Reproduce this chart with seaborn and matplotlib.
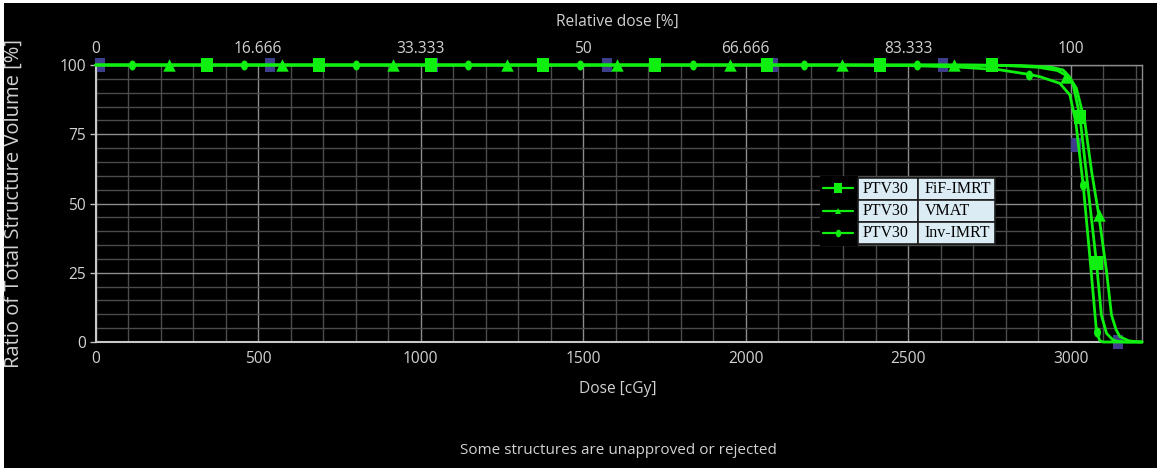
import numpy as np
import pandas as pd
import matplotlib
matplotlib.use("Agg")
import matplotlib.pyplot as plt
import seaborn as sns
from matplotlib.patches import Rectangle
from matplotlib.lines import Line2D

# ---------------- data ----------------
plans = ["FiF-IMRT", "VMAT", "Inv-IMRT"]
structure = "PTV30"

fif_dose = [0, 2600, 2800, 2900, 2960, 2990, 3008, 3029, 3054, 3080, 3095, 3111, 3130, 3142, 3170, 3220]
fif_vol = [100, 100, 99.8, 99.2, 98.0, 96.0, 93.0, 81.3, 55.5, 28.4, 9.7, 3.1, 0.8, 0.3, 0, 0]

vmat_dose = [0, 2700, 2850, 2940, 2977, 2995, 3018, 3044, 3065, 3087, 3111, 3126, 3140, 3152, 3180, 3213, 3220]
vmat_vol = [100, 100, 99.8, 99.2, 98.2, 96.0, 91.6, 79.5, 61.5, 45.8, 25.4, 9.8, 4.5, 1.9, 0.4, 0, 0]

inv_dose = [0, 2300, 2500, 2650, 2780, 2873, 2905, 2967, 2998, 3016, 3039, 3059, 3080, 3090, 3100, 3220]
inv_vol = [100, 100, 99.8, 99.3, 98.3, 96.6, 95.8, 93.4, 89.2, 79.5, 56.7, 31.4, 3.7, 0.5, 0, 0]

# marker positions along each curve
fif_mk_dose = [342, 687, 1032, 1376, 1721, 2066, 2413, 2758, 3029, 3081]
fif_mk_vol = [100, 100, 100, 100, 100, 100, 100, 100, 81.3, 28.4]
vmat_mk_dose = [226, 573, 915, 1266, 1604, 1952, 2296, 2641, 2986, 3087]
vmat_mk_vol = [100, 100, 100, 100, 100, 100, 100, 100, 95.8, 45.8]
inv_mk_dose = [112, 457, 801, 1146, 1491, 1838, 2180, 2528, 2873, 3039, 3080]
inv_mk_vol = [100, 100, 100, 100, 100, 100, 100, 100, 96.4, 56.7, 3.7]
# hidden (dark blue) structure markers partly covered by the green curves
hid_mk_dose = [13, 537, 1038, 1574, 2085, 2608, 3017, 3145]
hid_mk_vol = [100, 100, 100, 100, 100, 100, 71, 0]

x_ticks = [0, 500, 1000, 1500, 2000, 2500, 3000]
y_ticks = [0, 25, 50, 75, 100]
rel_labels = ["0", "16.666", "33.333", "50", "66.666", "83.333", "100"]

# ---------------- styling ----------------
sns.set_theme(style="dark")
plt.rcParams["font.family"] = ["Open Sans", "DejaVu Sans"]
GREEN = "#10f010"
TXT = "#d2d2d2"
FS = 11.2

W, H = 1165, 468
fig = plt.figure(figsize=(W / 100, H / 100), dpi=100, facecolor="white")
fig.patches.append(Rectangle((4 / W, 0), (1157 - 4) / W, (H - 3) / H,
                             transform=fig.transFigure, facecolor="black",
                             edgecolor="none", zorder=-10))

ax_l, ax_r, ax_t, ax_b = 95.7, 1142, 65, 342
ax = fig.add_axes([ax_l / W, (H - ax_b) / H, (ax_r - ax_l) / W, (ax_b - ax_t) / H])
ax.set_facecolor("black")

df = pd.concat([
    pd.DataFrame({"dose": fif_dose, "vol": fif_vol, "plan": plans[0]}),
    pd.DataFrame({"dose": vmat_dose, "vol": vmat_vol, "plan": plans[1]}),
    pd.DataFrame({"dose": inv_dose, "vol": inv_vol, "plan": plans[2]}),
])

# hidden structure markers (beneath)
rect_hid = [(-0.39, -0.5), (0.39, -0.5), (0.39, 0.5), (-0.39, 0.5), (-0.39, -0.5)]
sns.scatterplot(x=hid_mk_dose, y=hid_mk_vol, ax=ax, marker=rect_hid, s=100,
                color="#3e3e8c", linewidth=0, clip_on=False, zorder=2, legend=False)

sns.lineplot(data=df, x="dose", y="vol", hue="plan", palette={p: GREEN for p in plans},
             sort=False, estimator=None, legend=False, lw=2.0, clip_on=False,
             ax=ax, zorder=3)

rect_sq = [(-0.43, -0.5), (0.43, -0.5), (0.43, 0.5), (-0.43, 0.5), (-0.43, -0.5)]
th = np.linspace(0, 2 * np.pi, 25)
ellipse = np.column_stack([0.7 * np.cos(th), np.sin(th)])

sns.scatterplot(x=fif_mk_dose, y=fif_mk_vol, ax=ax, marker=rect_sq, s=100,
                color=GREEN, linewidth=0, clip_on=False, zorder=4, legend=False)
sns.scatterplot(x=vmat_mk_dose, y=vmat_mk_vol, ax=ax, marker="^", s=80,
                color=GREEN, linewidth=0, clip_on=False, zorder=4, legend=False)
sns.scatterplot(x=inv_mk_dose, y=inv_mk_vol, ax=ax, marker=ellipse, s=52,
                color=GREEN, linewidth=0, clip_on=False, zorder=4, legend=False)

ax.set_xlim(0, 3220)
ax.set_ylim(0, 100)
ax.set_xticks(x_ticks)
ax.set_yticks(y_ticks)
ax.set_xticks(np.arange(0, 3300, 100), minor=True)
ax.set_yticks(np.arange(0, 105, 5), minor=True)
ax.grid(True, which="major", color="#8c8c8c", lw=1.0)
ax.grid(True, which="minor", color="#4c4c4c", lw=1.0)
ax.set_axisbelow(True)
ax.tick_params(which="minor", length=0)
ax.tick_params(axis="x", which="major", length=0, pad=6.5, labelsize=FS, labelcolor=TXT)
ax.tick_params(axis="y", which="major", length=4.3, width=1, color="#bdbdbd",
               pad=2.5, labelsize=FS, labelcolor=TXT, left=True)
for s in ["left", "bottom"]:
    ax.spines[s].set_color("#c8c8c8")
    ax.spines[s].set_linewidth(1.5)
for s in ["top", "right"]:
    ax.spines[s].set_color("#8c8c8c")
    ax.spines[s].set_linewidth(1.0)
ax.set_xlabel("")
ax.set_ylabel("")

sec = ax.secondary_xaxis("top", functions=(lambda d: d, lambda d: d))
sec.set_xticks(x_ticks, labels=rel_labels)
sec.tick_params(length=0, pad=5.8, labelsize=FS, labelcolor=TXT)
sec.spines["top"].set_visible(False)

# ---------------- legend table ----------------
def px_x(p):
    return (p - ax_l) / (ax_r - ax_l)

def px_y(p):
    return (ax_b - p) / (ax_b - ax_t)

ax.add_patch(Rectangle((px_x(820), px_y(246)), px_x(858) - px_x(820), px_y(176) - px_y(246),
                       transform=ax.transAxes, facecolor="black", edgecolor="none", zorder=5))
cell_bg = "#dbecf5"
tbl = ax.table(cellText=[[structure, p] for p in plans],
               cellColours=[[cell_bg, cell_bg] for _ in plans],
               cellLoc="left", colWidths=[0.44, 0.56],
               bbox=[px_x(858), px_y(244), px_x(995) - px_x(858), px_y(178) - px_y(244)])
tbl.auto_set_font_size(False)
tbl.set_fontsize(11.5)
tbl.set_zorder(6)
for (r, c), cell in tbl.get_celld().items():
    cell.set_edgecolor("#1e1e1e")
    cell.set_linewidth(1.2)
    cell.PAD = 0.08
    cell.get_text().set_fontfamily("Liberation Serif")
    cell.get_text().set_color("black")

leg_rows = [188, 211, 233]
leg_markers = [(rect_sq, 7.0), ("^", 5.0), (ellipse, 5.5)]
for yy, (mk, ms) in zip(leg_rows, leg_markers):
    ax.add_line(Line2D([px_x(823), px_x(853)], [px_y(yy), px_y(yy)], transform=ax.transAxes,
                       color=GREEN, lw=1.6, zorder=6))
    ax.add_line(Line2D([px_x(838)], [px_y(yy)], transform=ax.transAxes, marker=mk,
                       markersize=ms, color=GREEN, mew=0, linestyle="none", zorder=7))

# ---------------- labels ----------------
fig.text(617 / W, 1 - 22 / H, "Relative dose [%]", ha="center", va="center",
         fontsize=FS, color=TXT)
fig.text(618 / W, 1 - 389 / H, "Dose [cGy]", ha="center", va="center",
         fontsize=FS, color=TXT)
fig.text(14 / W, 1 - 203 / H, "Ratio of Total Structure Volume [%]", ha="center",
         va="center", rotation=90, fontsize=14.5, color=TXT)
fig.text(618 / W, 1 - 451 / H, "Some structures are unapproved or rejected",
         ha="center", va="center", fontsize=11, color=TXT)

fig.savefig("out.png", dpi=100, facecolor=fig.get_facecolor())
